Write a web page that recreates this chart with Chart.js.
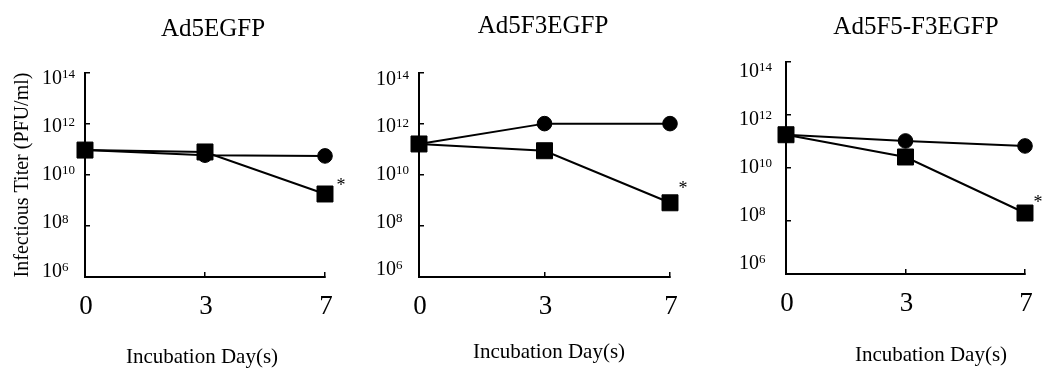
<!DOCTYPE html>
<html lang="en">
<head>
  <meta charset="UTF-8">
  <title>Infectious titer</title>
  <script src="https://cdn.jsdelivr.net/npm/chart.js"></script>
  <style>
    html, body {
      margin: 0;
      padding: 0;
      background: #fff;
    }
    #wrap {
      position: relative;
      width: 1042px;
      height: 371px;
    }
    #wrap canvas {
      position: absolute;
      left: 0;
      top: 0;
    }
  </style>
</head>
<body>
  <div id="wrap">
    <canvas id="panel0" width="1042" height="371"></canvas>
    <canvas id="panel1" width="1042" height="371"></canvas>
    <canvas id="panel2" width="1042" height="371"></canvas>
  </div>

  <script>
    // data
    const days = ['0', '3', '7'];
    const titles = ['Ad5EGFP', 'Ad5F3EGFP', 'Ad5F5-F3EGFP'];
    const yTickValues = [1e6, 1e8, 1e10, 1e12, 1e14];
    const yAxisTitle = 'Infectious Titer (PFU/ml)';
    const xAxisTitle = 'Incubation Day(s)';
    const significance = '*';

    const circleAd5EGFP = [9.5e10, 6.0e10, 5.6e10];
    const squareAd5EGFP = [9.5e10, 8.0e10, 1.8e9];
    const circleAd5F3EGFP = [1.6e11, 1.0e12, 1.0e12];
    const squareAd5F3EGFP = [1.6e11, 8.7e10, 8.0e8];
    const circleAd5F5F3EGFP = [1.8e11, 1.05e11, 6.8e10];
    const squareAd5F5F3EGFP = [1.8e11, 2.6e10, 2.0e8];

    const SERIF = '"Liberation Serif", "Times New Roman", serif';

    // where each panel sits on the page
    const panels = [
      { title: titles[0], circles: circleAd5EGFP, squares: squareAd5EGFP,
        box: { left: 85, right: 325, top: 73, bottom: 277 },
        titleAt: [213, 29], xTitleAt: [202, 357], labelGap: 43, labelSpread: 0.946,
        star: [16, -11], showYTitle: true },
      { title: titles[1], circles: circleAd5F3EGFP, squares: squareAd5F3EGFP,
        box: { left: 419, right: 670, top: 72.5, bottom: 277 },
        titleAt: [543, 26], xTitleAt: [549, 352], labelGap: 43, labelSpread: 0.93,
        star: [13, -17], showYTitle: false },
      { title: titles[2], circles: circleAd5F5F3EGFP, squares: squareAd5F5F3EGFP,
        box: { left: 786, right: 1025, top: 62, bottom: 274 },
        titleAt: [916, 27], xTitleAt: [931, 355], labelGap: 47, labelSpread: 0.906,
        star: [13, -13], showYTitle: false }
    ];

    function makeTextPlugin(p) {
      return {
        id: 'panelText',
        afterDraw(chart) {
          const ctx = chart.ctx;
          const xs = chart.scales.x;
          const ys = chart.scales.y;
          ctx.save();
          ctx.fillStyle = '#000';
          ctx.textBaseline = 'middle';

          // panel title
          ctx.font = '25px ' + SERIF;
          ctx.textAlign = 'center';
          ctx.fillText(p.title, p.titleAt[0], p.titleAt[1]);

          // day labels
          ctx.font = '27px ' + SERIF;
          xs.ticks.forEach((t, i) => {
            ctx.fillText(xs.getLabelForValue(t.value), xs.getPixelForTick(i) + 1, p.box.bottom + 30);
          });

          // x axis title
          ctx.font = '21px ' + SERIF;
          ctx.fillText(xAxisTitle, p.xTitleAt[0], p.xTitleAt[1]);

          // 10^n labels
          const mid = (ys.top + ys.bottom) / 2;
          const left = p.box.left - p.labelGap;
          ctx.textAlign = 'left';
          yTickValues.forEach(v => {
            const py = mid + (ys.getPixelForValue(v) - mid) * p.labelSpread;
            ctx.font = '20px ' + SERIF;
            ctx.fillText('10', left, py);
            const w = ctx.measureText('10').width;
            ctx.font = '13px ' + SERIF;
            ctx.fillText(String(Math.round(Math.log10(v))), left + w, py - 4);
          });

          // significance mark next to the last square
          const last = p.squares.length - 1;
          ctx.font = '18px ' + SERIF;
          ctx.textAlign = 'center';
          ctx.fillText(significance,
            xs.getPixelForTick(last) + p.star[0],
            ys.getPixelForValue(p.squares[last]) + p.star[1] + 3);

          // y axis title
          if (p.showYTitle) {
            ctx.font = '20px ' + SERIF;
            ctx.translate(23, mid);
            ctx.rotate(-Math.PI / 2);
            ctx.fillText(yAxisTitle, 0, 0);
          }
          ctx.restore();
        }
      };
    }

    panels.forEach((p, idx) => {
      const ctx = document.getElementById('panel' + idx).getContext('2d');
      new Chart(ctx, {
        type: 'line',
        data: {
          labels: days,
          datasets: [
            {
              label: 'square',
              data: p.squares,
              order: 0,
              clip: false,
              borderColor: '#000',
              borderWidth: 2,
              pointStyle: 'rect',
              pointRadius: 11.3,
              pointBorderWidth: 1,
              pointBackgroundColor: '#000',
              pointBorderColor: '#000'
            },
            {
              label: 'circle',
              data: p.circles,
              order: 1,
              clip: false,
              borderColor: '#000',
              borderWidth: 2,
              pointStyle: 'circle',
              pointRadius: 7.3,
              pointBorderWidth: 1,
              pointBackgroundColor: '#000',
              pointBorderColor: '#000'
            }
          ]
        },
        options: {
          responsive: false,
          animation: false,
          devicePixelRatio: 1,
          layout: {
            padding: {
              left: p.box.left,
              right: 1042 - p.box.right,
              top: p.box.top,
              bottom: 371 - p.box.bottom
            }
          },
          plugins: {
            legend: { display: false },
            tooltip: { enabled: false },
            title: { display: false }
          },
          scales: {
            x: {
              type: 'category',
              offset: false,
              afterFit: s => { s.height = 0; },
              ticks: { display: false },
              grid: { drawOnChartArea: false, drawTicks: true, tickLength: -5, color: '#000', lineWidth: 1.5 },
              border: { color: '#000', width: 2 }
            },
            y: {
              type: 'logarithmic',
              min: 1e6,
              max: 1e14,
              afterFit: s => { s.width = 0; },
              afterBuildTicks: s => { s.ticks = yTickValues.map(v => ({ value: v })); },
              ticks: { display: false },
              grid: { drawOnChartArea: false, drawTicks: true, tickLength: -5, color: '#000', lineWidth: 1.5 },
              border: { color: '#000', width: 2 }
            }
          }
        },
        plugins: [makeTextPlugin(p)]
      });
    });
  </script>
</body>
</html>
